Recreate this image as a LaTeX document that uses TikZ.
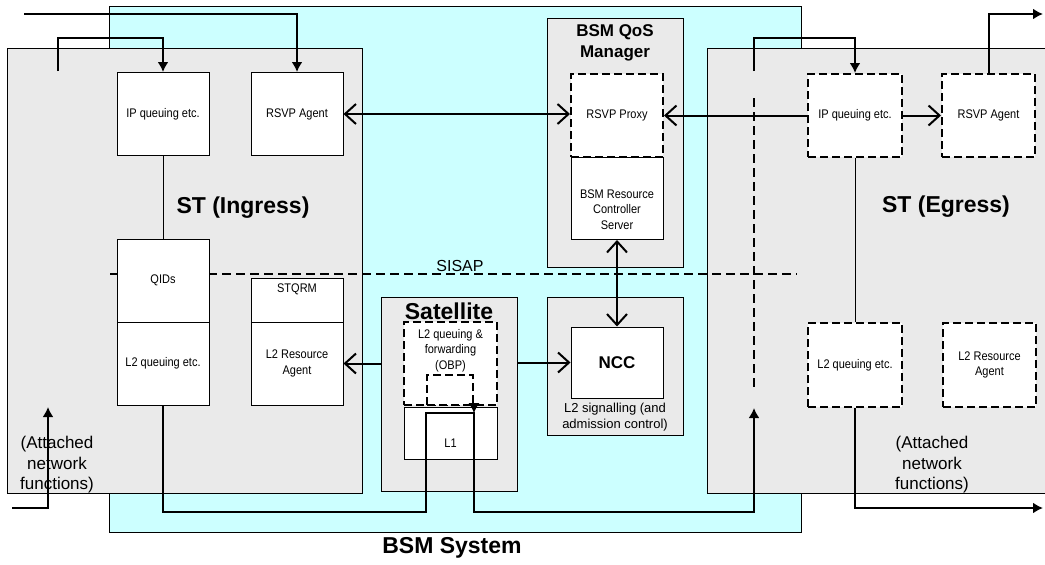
\documentclass[tikz,border=0pt]{standalone}
\usepackage{fontspec}
\setmainfont{Liberation Sans}
\newfontfamily\narrowfont[FakeStretch=0.88]{Liberation Sans}
\usetikzlibrary{arrows.meta, positioning, calc}

\definecolor{bsmcyan}{RGB}{204,255,255}
\definecolor{boxgray}{RGB}{234,234,234}

\begin{document}
\begin{tikzpicture}[x=1pt,y=-1pt,
    gray box/.style={draw,line width=1pt,fill=boxgray,inner sep=0pt},
    box text/.style={font=\narrowfont\fontsize{12.5}{15.5}\selectfont,align=center},
    white box/.style={draw,line width=1pt,fill=white,inner sep=0pt,box text,
      minimum width=92pt,minimum height=83pt},
    dash box/.style={white box,line width=2pt,dash pattern=on 8pt off 4pt},
    big text/.style={font=\bfseries\fontsize{23}{27}\selectfont},
    mid text/.style={font=\bfseries\fontsize{17}{21}\selectfont,align=center},
    side text/.style={font=\fontsize{17}{20.5}\selectfont,align=center},
    thick link/.style={line width=2pt},
    fill tip/.style={-{Latex[length=10pt,width=11pt]}},
    open tip/.style={-{Straight Barb[length=11pt,width=20pt]}},
    open tips/.style={{Straight Barb[length=11pt,width=20pt]}-{Straight Barb[length=11pt,width=20pt]}}]

  \useasboundingbox (0,0) rectangle (1045,565);
  \clip (0,0) rectangle (1045,565);

  % background areas
  \node[gray box,fill=bsmcyan,minimum width=692pt,minimum height=526pt] (bsm) at (455,269) {};
  \node[gray box,minimum width=355pt,minimum height=445pt] (ingress) at (184.5,270.5) {};
  \node[gray box,minimum width=353pt,minimum height=445pt] (egress) at (883.5,270.5) {};
  \node[gray box,minimum width=136pt,minimum height=249pt] (qos) at (615,142.5) {};
  \node[gray box,minimum width=136pt,minimum height=194pt] (sat) at (449,394) {};
  \node[gray box,minimum width=136pt,minimum height=138pt] (nccarea) at (615,366) {};

  % SISAP
  \coordinate (sisap w) at (110,274);
  \coordinate (sisap e) at (797,274);
  \draw[thick link,dash pattern=on 9pt off 5pt] (sisap w) -- (sisap e);
  \node[font=\fontsize{16}{19}\selectfont] (sisap) at (460,266) {SISAP};

  % ST (Ingress)
  \node[white box] (ipq) at (163,114) {IP queuing etc.};
  \node[white box] (rsvp) at (297,114) {RSVP Agent};
  \node[white box] (qids) at (163,280.5) {QIDs};
  \node[white box] (l2q) [below=-1pt of qids] {L2 queuing etc.};
  \node[white box,minimum height=44pt,
    label={[box text,yshift=11pt]center:STQRM}] (stqrm) at (297,300) {};
  \node[white box] (l2ra) [below=-1pt of stqrm] {L2 Resource\\Agent};
  \node[big text] (ingress title) at (243,208) {ST (Ingress)};
  \node[side text] (ingress att) at (57,465) {(Attached\\network\\functions)};

  % BSM QoS Manager
  \node[mid text] (qos title) at (615,43) {BSM QoS\\Manager};
  \node[dash box] (proxy) at (617,115.5) {RSVP Proxy};
  \node[white box,minimum height=82pt,
    label={[box text,yshift=-11pt]center:BSM Resource\\Controller\\Server}] (brc) [below=-1pt of proxy] {};

  % Satellite
  \node[big text] (sat title) at (449,311) {Satellite};
  \node[dash box,minimum width=93pt,
    label={[box text,yshift=13pt]center:L2 queuing \&\\forwarding\\(OBP)}] (obp) at (450.5,363.5) {};
  \node[white box,minimum width=93pt,minimum height=52pt,
    label={[box text,yshift=-10pt]center:L1}] (l1) at (450.5,433) {};
  \node[dash box,minimum width=46pt,minimum height=30pt] (loop) at (450,390) {};

  % NCC
  \node[white box,minimum height=71pt,font=\bfseries\fontsize{17}{20}\selectfont] (ncc) at (617,362.5) {NCC};
  \node[font=\fontsize{13}{16}\selectfont,align=center] (ncc text) at (615,417) {L2 signalling (and\\admission control)};

  % ST (Egress)
  \node[dash box,minimum width=94pt] (eipq) at (855,115.5) {IP queuing etc.};
  \node[dash box,minimum width=93pt] (ersvp) at (988.5,115.5) {RSVP Agent};
  \node[dash box,minimum width=94pt,minimum height=84pt] (el2q) at (855,365) {L2 queuing etc.};
  \node[dash box,minimum width=93pt,minimum height=84pt] (el2ra) at (989.5,365) {L2 Resource\\Agent};
  \node[big text] (egress title) at (946,207) {ST (Egress)};
  \node[side text] (egress att) at (932,465) {(Attached\\network\\functions)};

  \node[big text] (bsm title) at (452,548) {BSM System};

  % signalling
  \draw[line width=1pt] (ipq) -- (qids);
  \draw[line width=1pt] (eipq) -- (el2q);
  \draw[thick link,open tips] (rsvp.east) -- (rsvp.east -| proxy.west);
  \draw[thick link,open tip] (eipq.west) -- (eipq.west -| proxy.east);
  \draw[thick link,open tip] (eipq.east) -- (ersvp.west);
  \draw[thick link,open tips] (brc) -- (ncc);
  \draw[thick link,open tip] (sat.west |- l2ra.east) -- (l2ra.east);
  \draw[thick link,open tip] (sat.east |- ncc.west) -- (ncc.west);

  % user data path
  \coordinate (in a) at (24,14);
  \coordinate (in c) at (58,71);
  \coordinate (in b) at (12,508);
  \coordinate (att up) at (48,407);
  \coordinate (gnd) at (0,512);
  \coordinate (turn) at (0,413);
  \coordinate (e in) at (754,71);
  \coordinate (e dash top) at (754,98);
  \coordinate (e dash bot) at (754,388);
  \coordinate (e up) at (754,408);
  \coordinate (out a) at (1043,14);
  \coordinate (out b) at (1043,508);

  \draw[thick link,fill tip] (in a) -| (rsvp.north);
  \draw[thick link,fill tip] (in c) -- ++(0,-33) -| (ipq.north);
  \draw[thick link,fill tip] (in b) -| (att up);
  \draw[thick link,fill tip] (l2q.south) |- (gnd -| loop.west) -- (turn -| loop.west)
    -- (turn -| loop.east) -- (gnd -| loop.east) -| (e up);
  \draw[fill tip,line width=1pt] (loop.south east) -- (turn -| loop.east);
  \draw[thick link,fill tip] (e in) -- ++(0,-33) -| (eipq.north);
  \draw[thick link,dash pattern=on 9pt off 5pt] (e dash top) -- (e dash bot);
  \draw[thick link,fill tip] (ersvp.north) |- (out a);
  \draw[thick link,fill tip] (el2q.south) |- (out b);
\end{tikzpicture}
\end{document}
